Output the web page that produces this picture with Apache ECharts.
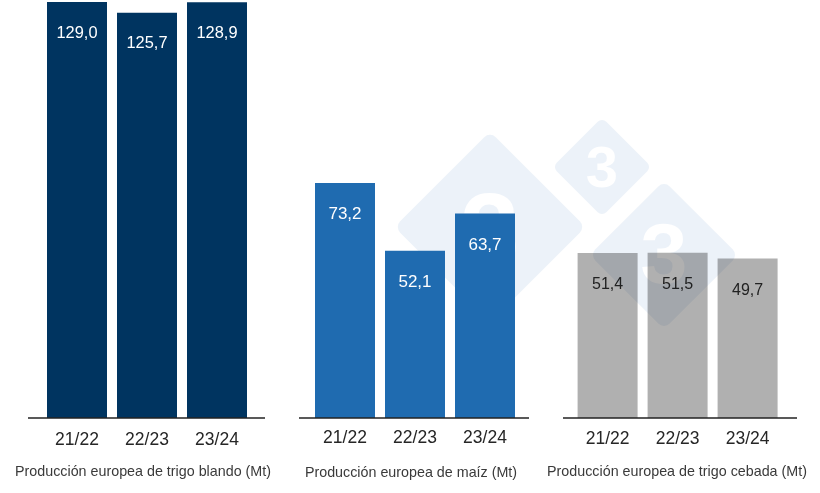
<!DOCTYPE html>
<html>
<head>
<meta charset="utf-8">
<style>html,body{margin:0;padding:0;background:#fff}#c{width:820px;height:493px}</style>
<script src="https://cdn.jsdelivr.net/npm/echarts@6/dist/echarts.min.js"></script>
</head>
<body>
<div id="c"></div>
<script>
const campaigns = ['21/22', '22/23', '23/24'];
const trigoBlando = [129.0, 125.7, 128.9];
const maiz = [73.2, 52.1, 63.7];
const trigoCebada = [51.4, 51.5, 49.7];
const titles = [
  'Producción europea de trigo blando (Mt)',
  'Producción europea de maíz (Mt)',
  'Producción europea de trigo cebada (Mt)'
];

const FONT = '"Liberation Sans", Arial, sans-serif';
const panels = [
  { data: trigoBlando, color: '#003460', label: '#ffffff', labelSize: 16.4, dist: 23, z: 30, left: 42, top: 2, margin: 13, line: [28, 265], titleX: 143, titleY: 472 },
  { data: maiz, color: '#1f6bb0', label: '#ffffff', labelSize: 17, dist: 23, z: 30, left: 310, top: 4, margin: 11.5, line: [299, 529], titleX: 411, titleY: 473 },
  { data: trigoCebada, color: '#b0b0b0', label: '#222222', labelSize: 16, dist: 24, z: 2, left: 572.6, top: 4, margin: 12, line: [563, 797], titleX: 677, titleY: 472 }
];
const BASE = 418;
const fmt = v => v.toFixed(1).replace('.', ',');

const diamonds = [
  { cx: 490, cy: 227, side: 135, r: 8, font: 106, ty: 238 },
  { cx: 602, cy: 167, side: 70, r: 6, font: 58, ty: 171 },
  { cx: 664, cy: 255, side: 105, r: 8, font: 85, ty: 260 }
];
const graphic = [];
diamonds.forEach(d => {
  graphic.push({
    type: 'rect', x: d.cx, y: d.cy, rotation: Math.PI / 4, z: 20, silent: true,
    shape: { x: -d.side / 2, y: -d.side / 2, width: d.side, height: d.side, r: d.r },
    style: { fill: '#ecf2f9', blend: 'multiply' }
  });
});
diamonds.forEach(d => {
  graphic.push({
    type: 'text', x: d.cx, y: d.ty, z: 21, silent: true,
    style: { text: '3', font: 'bold ' + d.font + 'px ' + FONT, fill: '#130d06', align: 'center', verticalAlign: 'middle' }
  });
});
panels.forEach(p => {
  graphic.push({
    type: 'line', z: 35, silent: true,
    shape: { x1: p.line[0], y1: BASE, x2: p.line[1], y2: BASE },
    style: { stroke: '#222222', lineWidth: 1.4 }
  });
});

const option = {
  backgroundColor: '#ffffff',
  animation: false,
  textStyle: { fontFamily: FONT },
  title: panels.map((p, i) => ({
    text: titles[i], left: p.titleX, top: p.titleY - 8, textAlign: 'center', padding: 0,
    textStyle: { fontFamily: FONT, fontSize: 14.3, fontWeight: 'normal', color: '#3a3a3a', lineHeight: 16 }
  })),
  grid: panels.map(p => ({ left: p.left, width: 210, top: p.top, height: BASE - p.top })),
  xAxis: panels.map((p, i) => ({
    type: 'category', gridIndex: i, data: campaigns,
    axisLine: { show: false }, axisTick: { show: false },
    axisLabel: { fontFamily: FONT, fontSize: 17.5, color: '#262626', margin: p.margin, interval: 0 }
  })),
  yAxis: panels.map((p, i) => ({ type: 'value', gridIndex: i, min: 0, max: 129, show: false })),
  series: panels.map((p, i) => ({
    type: 'bar', xAxisIndex: i, yAxisIndex: i, data: p.data, barWidth: 60, clip: false, z: p.z,
    itemStyle: { color: p.color },
    label: {
      show: true, position: 'insideTop', distance: p.dist, formatter: o => fmt(o.value),
      fontFamily: FONT, fontSize: p.labelSize, color: p.label
    }
  })),
  graphic: { elements: graphic }
};
const chart = echarts.init(document.getElementById('c'), null, { renderer: 'canvas' });
chart.setOption(option);
// The watermark digits undo the diamond's multiply tint, so they read as cut-outs over the grey bars too.
const zr = chart.getZr();
zr.storage.getDisplayList(true).forEach(el => {
  if (el.style && el.style.text === '3' && el.style.fill === '#130d06') {
    el.style.blend = 'color-dodge';
    el.markRedraw();
  }
});
zr.refreshImmediately();
</script>
</body>
</html>
